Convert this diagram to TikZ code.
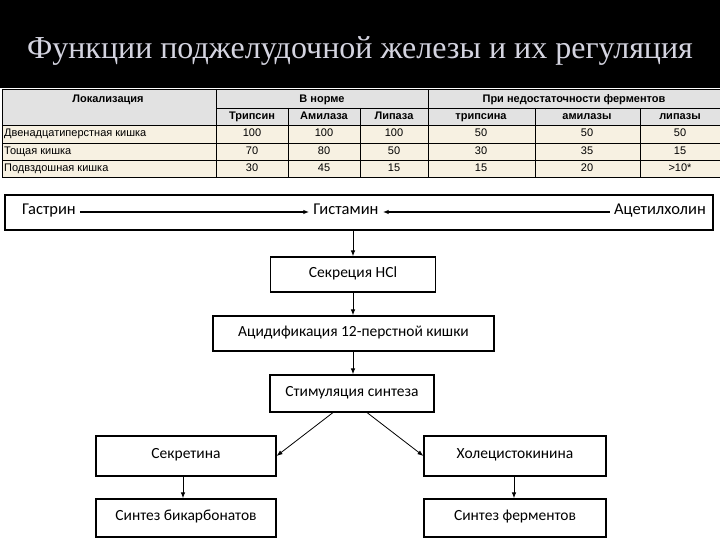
\documentclass[tikz,border=0pt]{standalone}
\usepackage{fontspec}
\setmainfont{Liberation Serif}
\newfontfamily\tabfont{Liberation Sans}
\newfontfamily\flowfont{Carlito}
\usepackage{xcolor}
\definecolor{titlegray}{HTML}{D4D4E0}
\definecolor{headgray}{HTML}{E2E2E2}
\definecolor{rowcream}{HTML}{F7F1E2}
\usetikzlibrary{arrows.meta,positioning}

\tikzset{
  box/.style={draw, line width=1.1pt, minimum height=35pt, text height=1.6ex, text depth=0.45ex,
    font=\flowfont\fontsize{15.5}{18}\selectfont},
  lbl/.style={font=\flowfont\fontsize{16.5}{19}\selectfont, inner sep=4pt, text height=1.6ex, text depth=0.45ex},
  arr/.style={-{Latex[length=6pt,width=4.5pt]}, line width=1pt},
  th/.style={font=\tabfont\bfseries\fontsize{11}{13}\selectfont, inner sep=1pt, text height=1.6ex, text depth=0.45ex},
  td/.style={font=\tabfont\fontsize{11}{13}\selectfont, inner sep=1pt, text height=1.6ex, text depth=0.45ex},
}

\begin{document}
\begin{tikzpicture}[x=1pt,y=-1pt]
  \useasboundingbox (0,0) rectangle (720,540);
  % Title band
  \fill[black] (0,0) rectangle (720,88);
  \node[font=\fontsize{32}{36}\selectfont, text=titlegray] (title) at (360,51) {Функции поджелудочной железы и их регуляция};
  % Table background and grid
  \fill[headgray] (2,89) rectangle (720,125);
  \fill[rowcream] (2,125) rectangle (720,177);
  \draw[thin] (2,89) -- (720,89);
  \foreach \y in {125,143,160,177} \draw[thin] (2,\y) -- (720,\y);
  \draw[thin] (216,108) -- (720,108);
  \foreach \x in {2,216,428} \draw[thin] (\x,89) -- (\x,177);
  \foreach \x in {288,360,535,640} \draw[thin] (\x,108) -- (\x,177);
  % Table header
  \node[th] (hloc) at (108,100) {Локализация};
  \node[th] (hnorm) at (322,100) {В норме};
  \node[th] (hlack) at (574,100) {При недостаточности ферментов};
  \foreach \x/\t [count=\i] in {252/Трипсин,324/Амилаза,394/Липаза,481/трипсина,587/амилазы,680/липазы}
    \node[th] (hc\i) at (\x,117) {\t};
  % Table rows
  \foreach \n/\y/\a/\b/\c/\d/\e/\f [count=\i] in {
      Двенадцатиперстная кишка/134/100/100/100/50/50/50,
      Тощая кишка/151.5/70/80/50/30/35/15,
      Подвздошная кишка/168.5/30/45/15/15/20/>10*} {
    \node[td, anchor=west] (loc\i) at (3,\y) {\n};
    \node[td] (ra\i) at (252,\y) {\a};
    \node[td] (rb\i) at (324,\y) {\b};
    \node[td] (rc\i) at (394,\y) {\c};
    \node[td] (rd\i) at (481,\y) {\d};
    \node[td] (re\i) at (587,\y) {\e};
    \node[td] (rf\i) at (680,\y) {\f};
  }
  % Regulation scheme
  \node[draw, line width=1.1pt, minimum width=708pt, minimum height=35pt] (frame) at (359,212.5) {};
  \node[lbl] (gastrin) at (49,212) {Гастрин};
  \node[lbl] (histamine) at (346,212) {Гистамин};
  \node[lbl] (acetyl) at (660,212) {Ацетилхолин};
  \draw[arr, line width=1.3pt] (gastrin) -- (histamine);
  \draw[arr, line width=1.3pt] (acetyl) -- (histamine);
  \node[box, minimum width=165pt] (hcl) at (353,274.5) {Секреция HCl};
  \node[box, minimum width=281pt] (acid) at (353.5,333.5) {Ацидификация 12-перстной кишки};
  \node[box, minimum width=164pt, minimum height=37pt] (stim) at (352,393.5) {Стимуляция синтеза};
  \node[box, minimum width=180pt, minimum height=40pt] (secretin) at (186,456) {Секретина};
  \node[box, minimum width=182pt, minimum height=40pt] (cck) at (515,456) {Холецистокинина};
  \node[box, minimum width=180pt, minimum height=38pt] (bicarb) at (186,518) {Синтез бикарбонатов};
  \node[box, minimum width=182pt, minimum height=38pt] (enzymes) at (515,518) {Синтез ферментов};
  \draw[arr] (frame.south -| hcl.north) -- (hcl.north);
  \draw[arr] (hcl.south) -- (hcl.south |- acid.north);
  \draw[arr] (hcl.south |- acid.south) -- (hcl.south |- stim.north);
  \draw[arr, line width=0.8pt] ([xshift=-19pt]stim.south) -- (secretin.east);
  \draw[arr, line width=0.8pt] ([xshift=15pt]stim.south) -- (cck.west);
  \draw[arr] (secretin.south -| 183,0) -- (bicarb.north -| 183,0);
  \draw[arr] (cck.south -| 514,0) -- (enzymes.north -| 514,0);
\end{tikzpicture}
\end{document}
